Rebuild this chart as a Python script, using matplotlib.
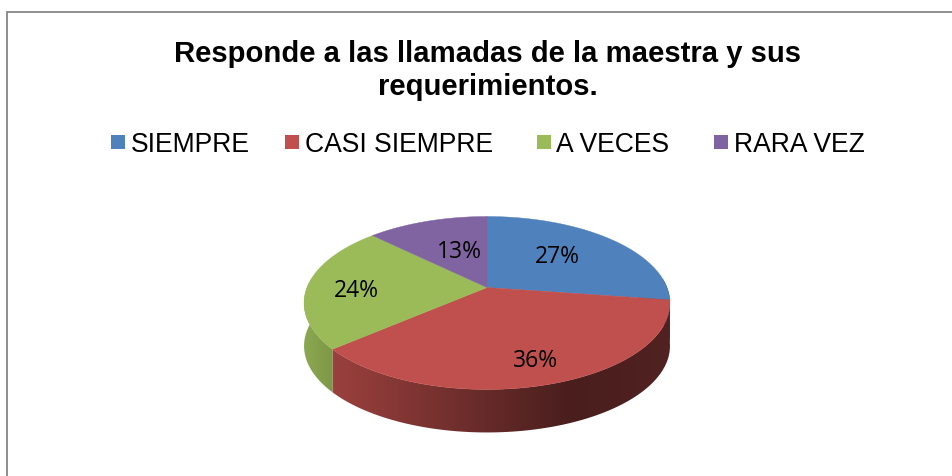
import numpy as np
import matplotlib
matplotlib.use('Agg')
import matplotlib.pyplot as plt
from matplotlib.patches import Polygon, Rectangle

# DATA
categories = ['SIEMPRE', 'CASI SIEMPRE', 'A VECES', 'RARA VEZ']
values = [27.3, 36.4, 23.6, 12.7]
colors = ['#4F81BD', '#C0504D', '#9BBB59', '#8064A2']
title_lines = ['Responde a las llamadas de la maestra y sus', 'requerimientos.']

# LAYOUT (pixels)
cx, cy = 487, 288.5      # where the slices meet
a, b, p = 180, 83.7, 0.179   # perspective of the disc
depth = 43
label_r = [0.57, 0.79, 0.73, 0.48]
label_dx = [-2, 3, 0, 4]
label_dy = [-2, -1, 4, -2]
legend_box_x = [111, 285, 537, 714]
legend_text_x = [131, 305, 556, 734]


def project(theta):
    # theta clockwise from the top, in fractions of the full circle
    t = 2 * np.pi * np.asarray(theta)
    X, Y = np.sin(t), np.cos(t)
    w = 1 + p * Y
    return cx + a * X / w, cy - b * Y / w


fig = plt.figure(figsize=(9.53, 4.77), dpi=100)
ax = fig.add_axes([0, 0, 1, 1])
ax.axis('off')

# frame, open on the right and at the bottom
ax.plot([7.5, 7.5, 953], [477, 13, 13], color='#868686', lw=1.3, solid_joinstyle='miter')

# TITLE
ax.text(488, 62, title_lines[0], family='Liberation Sans', weight='bold', fontsize=21.1,
        ha='center', va='baseline')
ax.text(488, 95, title_lines[1], family='Liberation Sans', weight='bold', fontsize=21.1,
        ha='center', va='baseline')

# LEGEND
for i, name in enumerate(categories):
    ax.add_patch(Rectangle((legend_box_x[i], 136), 14, 14, fc=colors[i], ec='none'))
    ax.text(legend_text_x[i], 152, name, family='Liberation Sans', fontsize=19.1,
            ha='left', va='baseline')

# PIE
ends = np.cumsum(values) / sum(values)
starts = np.concatenate([[0], ends[:-1]])

# side wall: horizontal gradient clipped to the band under each slice
grad_x = np.linspace(300, 675, 376)
grad = np.interp(grad_x, [304, 335, 570, 670], [0.90, 0.80, 0.38, 0.42])
for i in range(len(values)):
    th = np.linspace(starts[i], ends[i], 200)
    xs, ys = project(th)
    band = list(zip(xs, ys)) + list(zip(xs[::-1], ys[::-1] + depth))
    base = np.array(matplotlib.colors.to_rgb(colors[i]))
    img = ax.imshow((grad[:, None] * base)[None, :, :], extent=[300, 675, 440, 280],
                    aspect='auto', interpolation='bilinear')
    clip = Polygon(band, transform=ax.transData, fc='none', ec='none')
    ax.add_patch(clip)
    img.set_clip_path(clip)

# top face
for i in range(len(values)):
    th = np.linspace(starts[i], ends[i], 200)
    xs, ys = project(th)
    pts = [(cx, cy)] + list(zip(xs, ys))
    ax.add_patch(Polygon(pts, fc=colors[i], ec=colors[i], lw=0.3))

# data labels
for i in range(len(values)):
    t = 2 * np.pi * (starts[i] + ends[i]) / 2
    X, Y = label_r[i] * np.sin(t), label_r[i] * np.cos(t)
    w = 1 + p * Y
    ax.text(cx + a * X / w + label_dx[i], cy - b * Y / w + label_dy[i], f'{round(values[i])}%',
            family='Open Sans', fontsize=16.5, ha='center', va='center', color='black')

ax.set_xlim(0, 953)
ax.set_ylim(477, 0)
fig.savefig('out.png', dpi=100)
